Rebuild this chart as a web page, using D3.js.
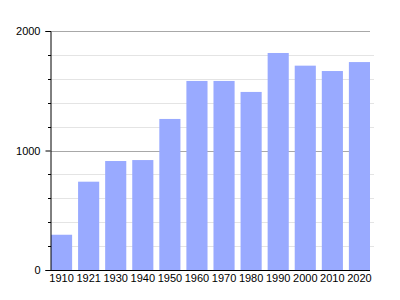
<!DOCTYPE html>
<html>
<head>
<meta charset="utf-8">
<script src="https://cdn.jsdelivr.net/npm/d3@7"></script>
<style>
  body { margin: 0; background: #fff; }
  svg { display: block; font-family: "Liberation Sans", Arial, sans-serif; }
</style>
</head>
<body>
<div id="chart"></div>
<script>
const years = ["1910", "1921", "1930", "1940", "1950", "1960", "1970", "1980", "1990", "2000", "2010", "2020"];
const population = [295, 739, 912, 920, 1264, 1582, 1582, 1490, 1816, 1710, 1665, 1740];
const majorTicks = [0, 1000, 2000];
const minorTicks = [200, 400, 600, 800, 1200, 1400, 1600, 1800];

const width = 400;
const height = 300;
const margin = { top: 31, right: 30, bottom: 30, left: 50 };

const svg = d3.select("#chart")
  .append("svg")
  .attr("width", width)
  .attr("height", height);

const x = d3.scaleBand()
  .domain(years)
  .range([margin.left + 1, width - margin.right])
  .paddingInner(0.22)
  .paddingOuter(0);

const y = d3.scaleLinear()
  .domain([0, 2000])
  .range([height - margin.bottom, margin.top]);

// light gridlines every 200
svg.append("g")
  .selectAll("line")
  .data(minorTicks)
  .join("line")
  .attr("x1", margin.left + 1)
  .attr("x2", width - margin.right + 4)
  .attr("y1", (d) => Math.round(y(d)) + 0.5)
  .attr("y2", (d) => Math.round(y(d)) + 0.5)
  .attr("stroke", "#e4e4e4")
  .attr("stroke-width", 1);

// darker gridlines at 1000 and 2000
svg.append("g")
  .selectAll("line")
  .data(majorTicks.filter((d) => d > 0))
  .join("line")
  .attr("x1", margin.left + 1)
  .attr("x2", width - margin.right)
  .attr("y1", (d) => Math.round(y(d)) + 0.5)
  .attr("y2", (d) => Math.round(y(d)) + 0.5)
  .attr("stroke", "#a8a8a8")
  .attr("stroke-width", 1);

svg.append("g")
  .selectAll("rect")
  .data(population)
  .join("rect")
  .attr("x", (d, i) => x(years[i]))
  .attr("width", x.bandwidth())
  .attr("y", (d) => y(d))
  .attr("height", (d) => y(0) - y(d))
  .attr("fill", "#99aaff");

// y axis: major ticks with labels
const yAxis = svg.append("g")
  .attr("transform", `translate(${margin.left + 0.5},0)`)
  .call(d3.axisLeft(y).tickValues(majorTicks).tickFormat(d3.format("d")).tickSize(5).tickPadding(5));
yAxis.select(".domain").attr("stroke", "#000");
yAxis.selectAll(".tick line").attr("stroke", "#000");
yAxis.selectAll(".tick text").attr("font-size", 11).attr("fill", "#000");

// minor ticks crossing the axis
svg.append("g")
  .selectAll("line")
  .data(minorTicks)
  .join("line")
  .attr("x1", margin.left - 2)
  .attr("x2", margin.left + 1)
  .attr("y1", (d) => Math.round(y(d)) + 0.5)
  .attr("y2", (d) => Math.round(y(d)) + 0.5)
  .attr("stroke", "#000");

// x axis
const xAxis = svg.append("g")
  .attr("transform", `translate(0,${height - margin.bottom + 0.5})`)
  .call(d3.axisBottom(x).tickSize(0).tickPadding(4));
xAxis.select(".domain").attr("stroke", "#000").attr("d", `M${margin.left},0H${width - margin.right}`);
xAxis.selectAll(".tick text").attr("font-size", 11).attr("fill", "#000");
</script>
</body>
</html>
